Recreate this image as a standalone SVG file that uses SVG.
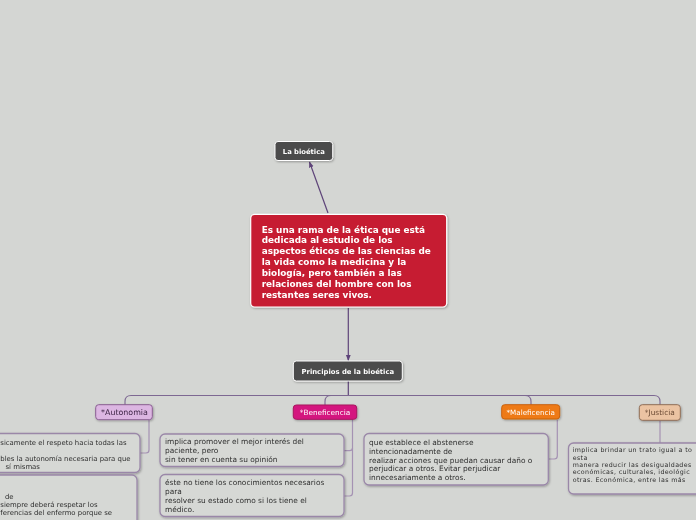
<svg xmlns="http://www.w3.org/2000/svg" width="696" height="520" viewBox="0 0 696 520">
<defs>
<style>
.bg{fill:#d4d6d3}
.dark rect{fill:#4b4b4b;stroke:#ffffff;stroke-width:1}
.dark text{fill:#ffffff;font-family:"DejaVu Sans",Verdana,sans-serif;font-weight:bold;text-anchor:middle}
.red rect{fill:#c61f32;stroke:#ffffff;stroke-width:1.2}
.red text{fill:#ffffff;font-family:"DejaVu Sans",Verdana,sans-serif;font-weight:bold;font-size:8.9px}
.cat text{font-family:"DejaVu Sans",Verdana,sans-serif;text-anchor:middle}
.box rect{fill:#d6d8d5;stroke:#9a87a8;stroke-width:1.3}
.box text{fill:#2e2e2e;font-family:"DejaVu Sans",Verdana,sans-serif;font-size:7.4px}
.box text.small{font-size:6.9px}
.box text.tight{font-size:6.3px;letter-spacing:0.38px}
.main{fill:none;stroke:#5e4479;stroke-width:1.2}
.branch{fill:none;stroke:#7d6892;stroke-width:1.1}
.sub{fill:none;stroke:#a592b3;stroke-width:1.2}
</style>
<marker id="arr" viewBox="0 0 10 10" refX="9" refY="5" markerWidth="6" markerHeight="6" markerUnits="userSpaceOnUse" orient="auto">
<path d="M0,1 L10,5 L0,9 Z" fill="#5e4479"/>
</marker>
<filter id="sh" x="-10%" y="-10%" width="130%" height="140%">
<feDropShadow dx="0.8" dy="1" stdDeviation="0.8" flood-color="#000000" flood-opacity="0.3"/>
</filter>
</defs>
<rect class="bg" x="0" y="0" width="696" height="520"/>

<g id="connectors">
<line class="main" x1="328" y1="213" x2="309.5" y2="162" marker-end="url(#arr)"/>
<line class="main" x1="348.3" y1="308" x2="348.3" y2="360.5" marker-end="url(#arr)"/>
<line class="main" x1="348.3" y1="381" x2="348.3" y2="395.5"/>
<path class="branch" d="M348.3,395.5 H131 Q125,395.5 125,401.5 V405"/>
<path class="branch" d="M348.3,395.5 H331 Q325,395.5 325,401.5 V405"/>
<path class="branch" d="M348.3,395.5 H525 Q531,395.5 531,401.5 V405"/>
<path class="branch" d="M348.3,395.5 H654 Q660,395.5 660,401.5 V405"/>
<path class="sub" d="M149,420 V450 Q149,453 146,453 H140"/>
<path class="sub" d="M352.5,419.5 V493 Q352.5,496 349.5,496 H344"/>
<path class="sub" d="M352.5,448 Q352.5,450.7 349.5,450.7 H344"/>
<path class="sub" d="M557.3,419.5 V456 Q557.3,459 554.3,459 H548.3"/>
<path class="sub" d="M660,420.5 V443"/>
</g>

<g id="la-bioetica" class="dark" filter="url(#sh)">
<rect x="275" y="141.5" width="57.7" height="19" rx="3"/>
<text x="303.8" y="153.6" font-size="6.8px">La bioética</text>
</g>

<g id="definicion" class="red" filter="url(#sh)">
<rect x="250.7" y="214.3" width="196" height="92.7" rx="4"/>
<text x="261.7" y="232.5">Es una rama de la ética que está</text>
<text x="261.7" y="243.4">dedicada al estudio de los</text>
<text x="261.7" y="254.3">aspectos éticos de las ciencias de</text>
<text x="261.7" y="265.2">la vida como la medicina y la</text>
<text x="261.7" y="276.1">biología, pero también a las</text>
<text x="261.7" y="287">relaciones del hombre con los</text>
<text x="261.7" y="297.9">restantes seres vivos.</text>
</g>

<g id="principios" class="dark" filter="url(#sh)">
<rect x="293.3" y="361" width="109" height="20" rx="3"/>
<text x="347.8" y="373.5" font-size="6.85px">Principios de la bioética</text>
</g>

<g id="autonomia" class="cat" filter="url(#sh)">
<rect x="95.7" y="404.7" width="56.6" height="15" rx="3" fill="#dcb6e2" stroke="#8a5f92" stroke-width="1"/>
<text x="124.5" y="415" font-size="7.9px" fill="#3d2545">*Autonomia</text>
</g>

<g id="beneficencia" class="cat" filter="url(#sh)">
<rect x="293.3" y="405" width="63.4" height="14.3" rx="3" fill="#d4187f" stroke="#a8135f" stroke-width="1"/>
<text x="325" y="415" font-size="7.3px" fill="#ffffff">*Beneficencia</text>
</g>

<g id="maleficencia" class="cat" filter="url(#sh)">
<rect x="501.7" y="404.7" width="58" height="14.3" rx="3" fill="#ee7a14" stroke="#c9620c" stroke-width="1"/>
<text x="530.7" y="414.8" font-size="7.2px" fill="#ffffff">*Maleficencia</text>
</g>

<g id="justicia" class="cat" filter="url(#sh)">
<rect x="639.3" y="404.7" width="41" height="15.6" rx="3" fill="#ebc3a2" stroke="#8f6e58" stroke-width="1"/>
<text x="659.8" y="415" font-size="7.4px" fill="#6a4a34">*Justicia</text>
</g>

<g id="autonomia-1" class="box" filter="url(#sh)">
<rect x="-10" y="433.5" width="150" height="39" rx="5"/>
<text class="small" x="0.3" y="445.3">sicamente el respeto hacia todas las</text>
<text class="small" x="0.3" y="461.3">bles la autonomía necesaria para que</text>
<text class="small" x="5.5" y="469.3">sí mismas</text>
</g>

<g id="autonomia-2" class="box" filter="url(#sh)">
<rect x="-10" y="475" width="147" height="60" rx="5"/>
<text class="small" x="5" y="498.8">de</text>
<text class="small" x="0.3" y="507">siempre deberá respetar los</text>
<text class="small" x="0.3" y="515.3">ferencias del enfermo porque se</text>
</g>

<g id="beneficencia-1" class="box" filter="url(#sh)">
<rect x="160" y="434" width="184" height="32.5" rx="5"/>
<text x="165" y="444.4">implica promover el mejor interés del</text>
<text x="165" y="453.1">paciente, pero</text>
<text x="165" y="461.8">sin tener en cuenta su opinión</text>
</g>

<g id="beneficencia-2" class="box" filter="url(#sh)">
<rect x="160" y="474.5" width="184" height="42" rx="5"/>
<text x="165" y="485.3">éste no tiene los conocimientos necesarios</text>
<text x="165" y="494.1">para</text>
<text x="165" y="502.9">resolver su estado como si los tiene el</text>
<text x="165" y="511.7">médico.</text>
</g>

<g id="maleficencia-1" class="box" filter="url(#sh)">
<rect x="364" y="433.5" width="184.3" height="51.5" rx="5"/>
<text x="369" y="444.9">que establece el abstenerse</text>
<text x="369" y="453.7">intencionadamente de</text>
<text x="369" y="462.5">realizar acciones que puedan causar daño o</text>
<text x="369" y="471.3">perjudicar a otros. Evitar perjudicar</text>
<text x="369" y="480.1">innecesariamente a otros.</text>
</g>

<g id="justicia-1" class="box" filter="url(#sh)">
<rect x="568.5" y="443" width="140" height="51" rx="5"/>
<text class="tight" x="572.7" y="452.2">implica brindar un trato igual a to</text>
<text class="tight" x="572.7" y="459.6">esta</text>
<text class="tight" x="572.7" y="467">manera reducir las desigualdades</text>
<text class="tight" x="572.7" y="474.4">económicas, culturales, ideológic</text>
<text class="tight" x="572.7" y="481.8">otras. Económica, entre las más</text>
</g>
</svg>
